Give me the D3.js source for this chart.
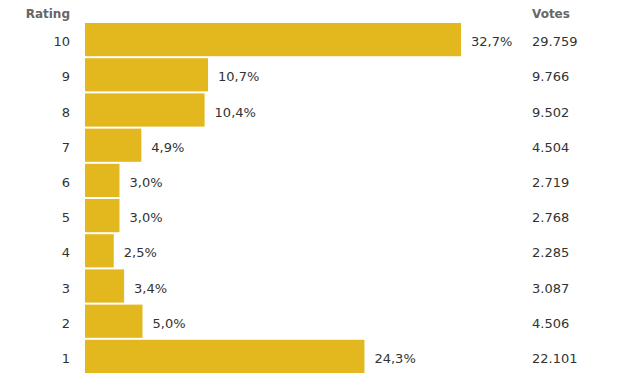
<!DOCTYPE html>
<html>
<head>
<meta charset="utf-8">
<script src="https://cdn.jsdelivr.net/npm/d3@7"></script>
<style>
  body { margin: 0; background: #fff; }
  text { font-family: "DejaVu Sans", Verdana, sans-serif; }
</style>
</head>
<body>
<div id="chart"></div>
<script>
// ratings, share of votes (%) and vote counts
const ratings = ["10", "9", "8", "7", "6", "5", "4", "3", "2", "1"];
const percents = [32.7, 10.7, 10.4, 4.9, 3.0, 3.0, 2.5, 3.4, 5.0, 24.3];
const votes = ["29.759", "9.766", "9.502", "4.504", "2.719", "2.768", "2.285", "3.087", "4.506", "22.101"];

const width = 626, height = 386;
const margin = {top: 23, left: 85};

const svg = d3.select("#chart")
  .append("svg")
  .attr("width", width)
  .attr("height", height);

// x: percent -> pixels (11.5px per %)
const x = d3.scaleLinear()
  .domain([0, 100])
  .range([0, 1150]);

// y: band per rating row
const y = d3.scaleBand()
  .domain(ratings)
  .range([margin.top, margin.top + 35 * ratings.length])
  .paddingInner(2 / 35)
  .paddingOuter(0)
  .align(0);

const rows = ratings.map((r, i) => ({rating: r, pct: percents[i], votes: votes[i]}));

// headers
svg.append("text")
  .attr("x", 70).attr("y", 18)
  .attr("text-anchor", "end")
  .style("font-size", "12px").style("font-weight", "bold")
  .style("fill", "#666")
  .text("Rating");

svg.append("text")
  .attr("x", 532).attr("y", 18)
  .style("font-size", "12px").style("font-weight", "bold")
  .style("fill", "#666")
  .text("Votes");

const g = svg.selectAll("g.row")
  .data(rows)
  .enter()
  .append("g")
  .attr("class", "row");

g.append("rect")
  .attr("x", margin.left)
  .attr("y", d => y(d.rating))
  .attr("width", d => x(d.pct))
  .attr("height", y.bandwidth())
  .style("fill", "#e3b81f");

// labels sit slightly below the bar centre
const mid = d => y(d.rating) + y.bandwidth() / 2 + 2;

g.append("text")
  .attr("x", 70)
  .attr("y", mid)
  .attr("dy", "0.35em")
  .attr("text-anchor", "end")
  .style("font-size", "13px")
  .style("fill", "#333")
  .text(d => d.rating);

g.append("text")
  .attr("x", d => margin.left + x(d.pct) + 10)
  .attr("y", mid)
  .attr("dy", "0.35em")
  .style("font-size", "13px")
  .style("fill", "#333")
  .text(d => d.pct.toFixed(1).replace(".", ",") + "%");

g.append("text")
  .attr("x", 532)
  .attr("y", mid)
  .attr("dy", "0.35em")
  .style("font-size", "13px")
  .style("fill", "#333")
  .text(d => d.votes);
</script>
</body>
</html>
